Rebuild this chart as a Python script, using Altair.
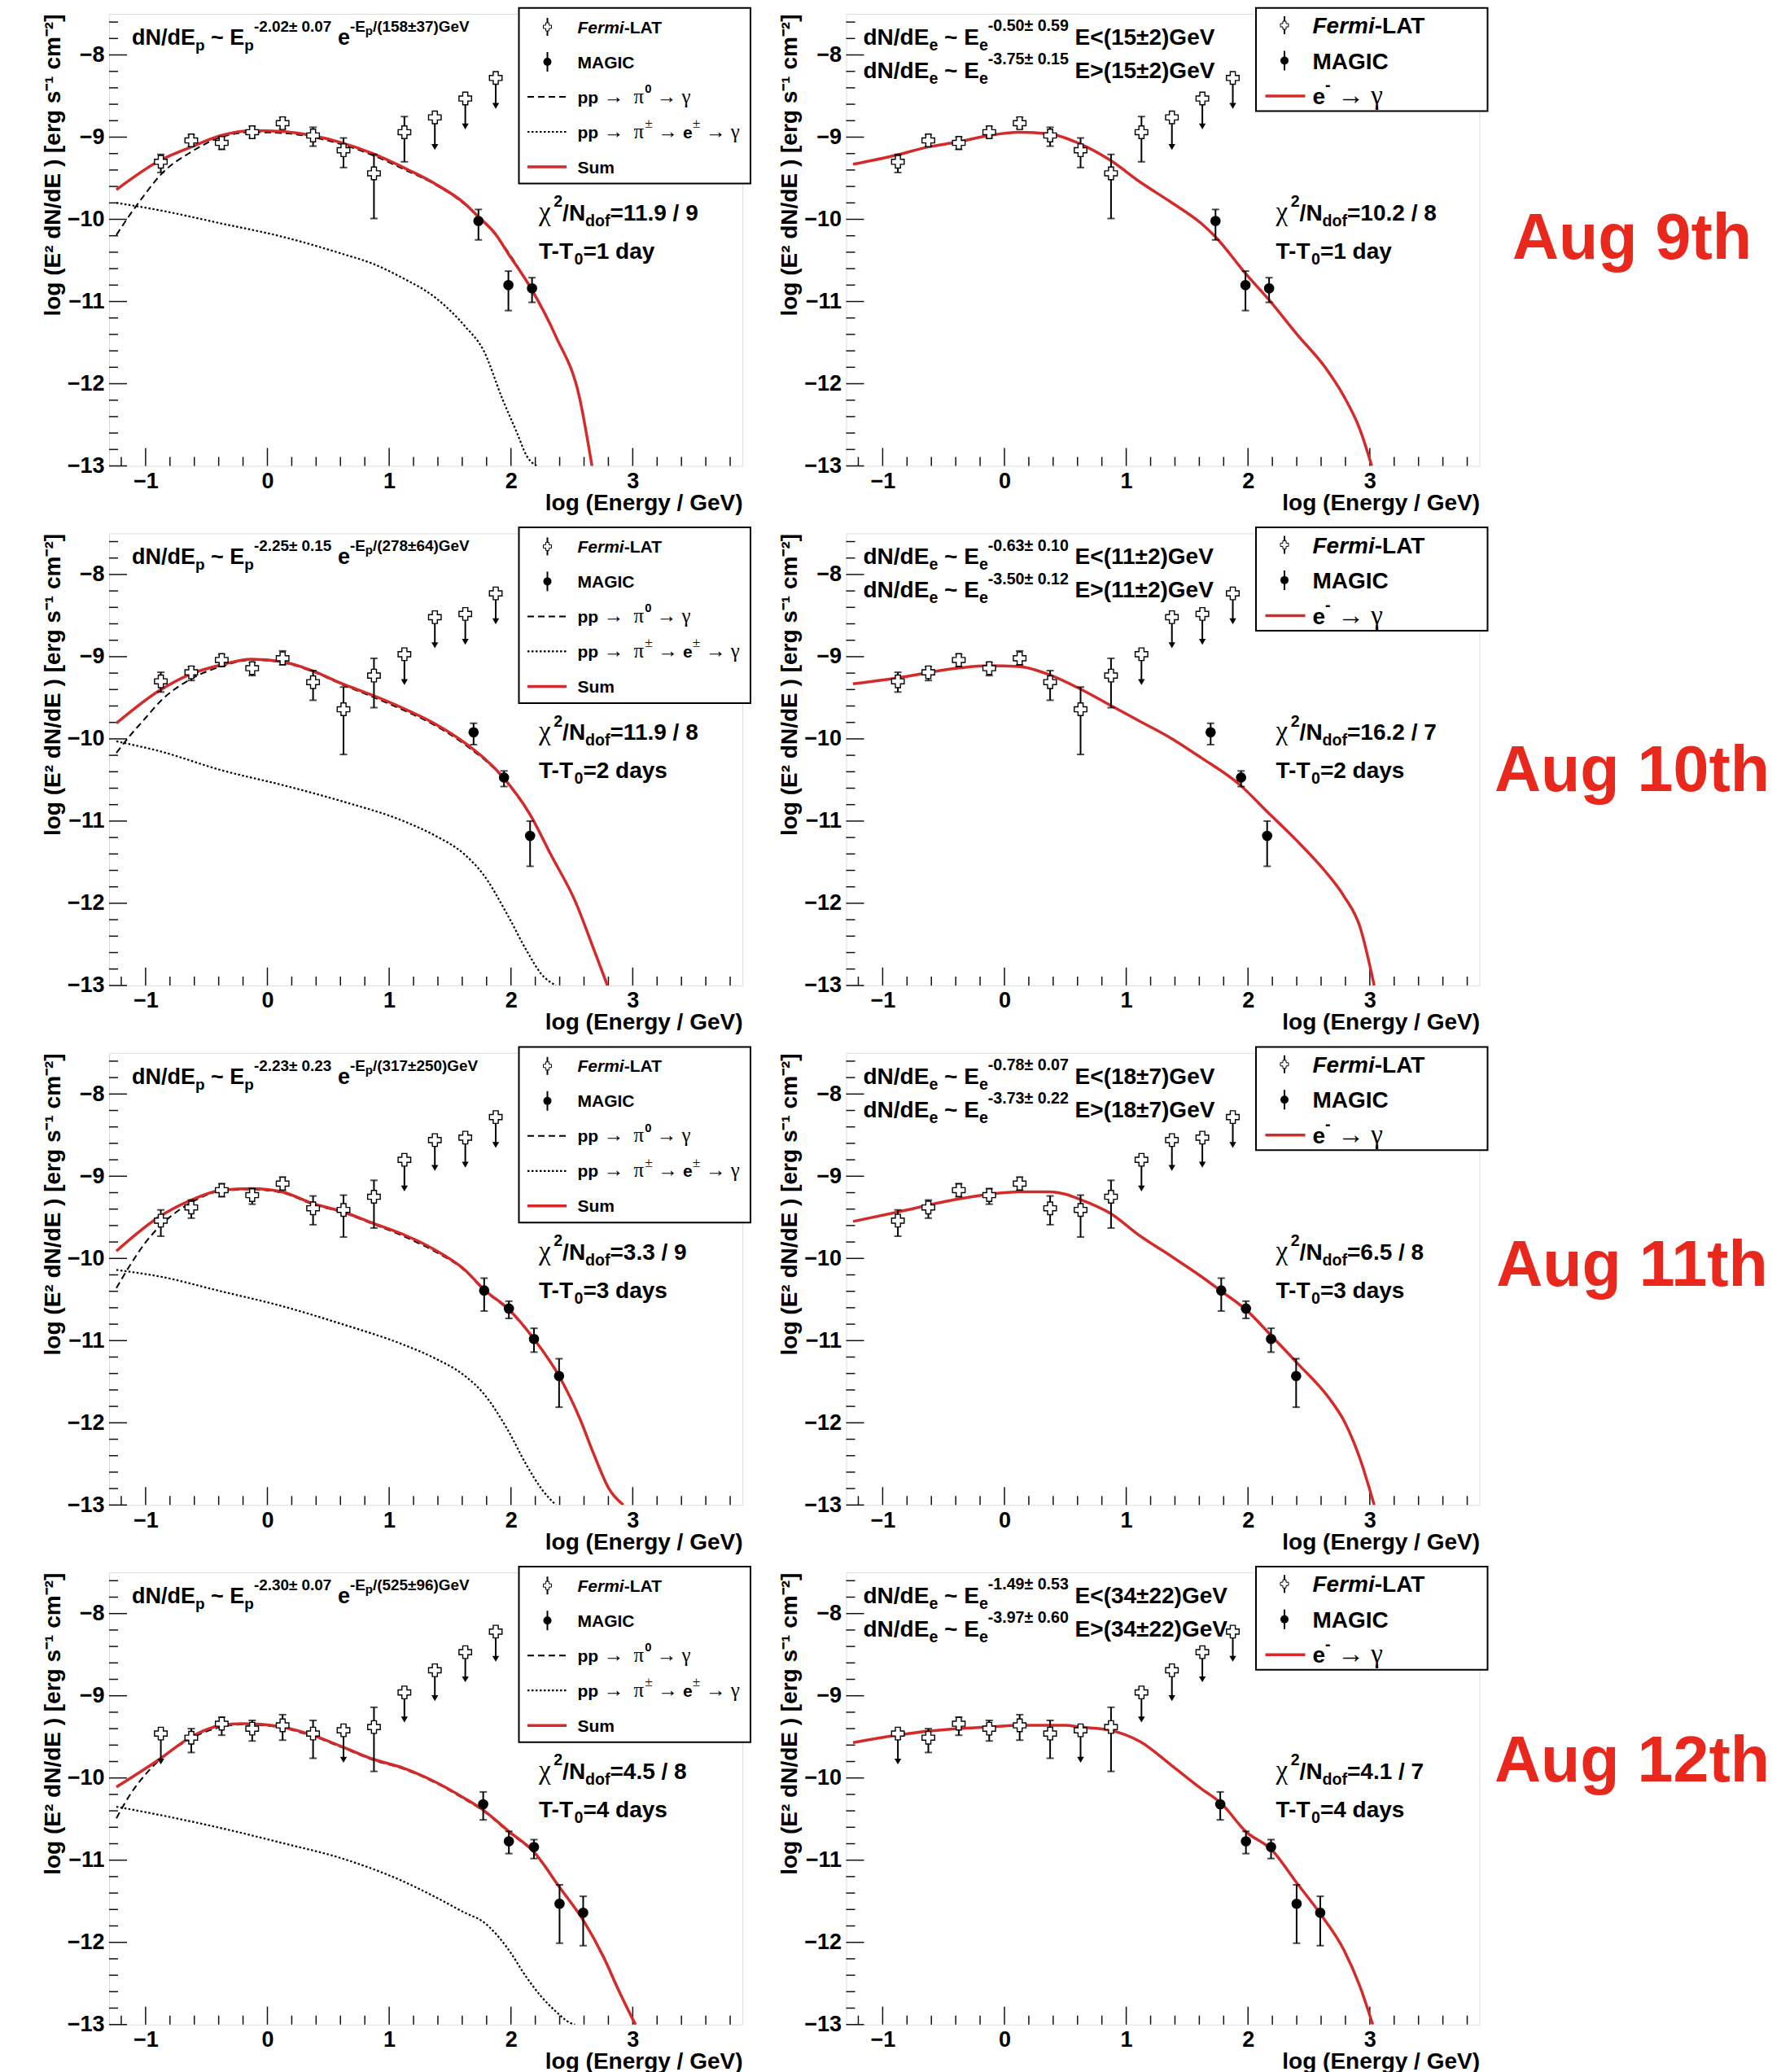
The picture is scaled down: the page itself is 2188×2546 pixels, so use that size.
import altair as alt
import pandas as pd

# ---------------- geometry / axes ----------------
PANEL_W = 778
PANEL_H = 555.5
X_DOMAIN = [-1.3, 3.9]
Y_DOMAIN = [-13.0, -7.5]
X_MAJOR = [-1, 0, 1, 2, 3]
X_MINOR = [-1.2, -0.8, -0.6, -0.4, -0.2, 0.2, 0.4, 0.6, 0.8, 1.2, 1.4, 1.6, 1.8,
           2.2, 2.4, 2.6, 2.8, 3.2, 3.4, 3.6, 3.8]
Y_MAJOR = [-13, -12, -11, -10, -9, -8]
Y_MINOR = [-12.8, -12.6, -12.4, -12.2, -11.8, -11.6, -11.4, -11.2, -10.8, -10.6, -10.4,
           -10.2, -9.8, -9.6, -9.4, -9.2, -8.8, -8.6, -8.4, -8.2, -7.8, -7.6]

# ---------------- texts ----------------
DAY_LABELS = ["Aug 9th", "Aug 10th", "Aug 11th", "Aug 12th"]
T_LABELS = ["1 day", "2 days", "3 days", "4 days"]
CHI2_HAD = ["11.9 / 9", "11.9 / 8", "3.3 / 9", "4.5 / 8"]
CHI2_LEP = ["10.2 / 8", "16.2 / 7", "6.5 / 8", "4.1 / 7"]
HAD_INDEX = ["-2.02± 0.07", "-2.25± 0.15", "-2.23± 0.23", "-2.30± 0.07"]
HAD_CUTOFF = ["158±37", "278±64", "317±250", "525±96"]
LEP_IDX1 = ["-0.50± 0.59", "-0.63± 0.10", "-0.78± 0.07", "-1.49± 0.53"]
LEP_IDX2 = ["-3.75± 0.15", "-3.50± 0.12", "-3.73± 0.22", "-3.97± 0.60"]
LEP_BREAK = ["15±2", "11±2", "18±7", "34±22"]
X_TITLE = "log (Energy / GeV)"
Y_TITLE = "log (E² dN/dE ) [erg s⁻¹ cm⁻²]"

# ---------------- Fermi-LAT data (same bins every day) ----------------
FERMI_X = [-0.875, -0.625, -0.375, -0.125, 0.125, 0.375, 0.625, 0.875, 1.125, 1.375, 1.625, 1.875]
FERMI_Y = [
    [-9.30, -9.04, -9.07, -8.94, -8.83, -8.98, -9.16, -9.44, -8.94, -8.76, -8.53, -8.28],
    [-9.30, -9.19, -9.04, -9.14, -9.02, -9.31, -9.64, -9.23, -8.97, -8.52, -8.48, -8.23],
    [-9.54, -9.38, -9.17, -9.23, -9.09, -9.39, -9.41, -9.25, -8.80, -8.56, -8.53, -8.28],
    [-9.46, -9.51, -9.34, -9.40, -9.36, -9.46, -9.42, -9.38, -8.96, -8.69, -8.47, -8.22],
]
FERMI_LO = [
    [-9.43, -9.11, -9.15, -9.01, -8.90, -9.11, -9.37, -9.99, -9.30, -9.12, -8.87, -8.62],
    [-9.43, -9.29, -9.12, -9.23, -9.10, -9.53, -10.19, -9.62, -9.31, -8.86, -8.82, -8.57],
    [-9.73, -9.51, -9.25, -9.34, -9.17, -9.59, -9.74, -9.63, -9.15, -8.90, -8.86, -8.62],
    [-9.80, -9.69, -9.48, -9.55, -9.54, -9.76, -9.78, -9.92, -9.29, -9.03, -8.80, -8.55],
]
FERMI_HI = [
    [-9.21, -8.97, -9.00, -8.87, -8.76, -8.88, -9.01, -9.21, -8.75, -8.76, -8.53, -8.28],
    [-9.19, -9.12, -8.97, -9.07, -8.93, -9.17, -9.37, -9.02, -8.97, -8.52, -8.48, -8.23],
    [-9.41, -9.29, -9.09, -9.15, -9.01, -9.24, -9.23, -9.05, -8.80, -8.56, -8.53, -8.28],
    [-9.46, -9.40, -9.26, -9.30, -9.23, -9.30, -9.42, -9.14, -8.96, -8.69, -8.47, -8.22],
]
FERMI_UL = [
    [0, 0, 0, 0, 0, 0, 0, 0, 0, 1, 1, 1],
    [0, 0, 0, 0, 0, 0, 0, 0, 1, 1, 1, 1],
    [0, 0, 0, 0, 0, 0, 0, 0, 1, 1, 1, 1],
    [1, 0, 0, 0, 0, 0, 1, 0, 1, 1, 1, 1],
]

# ---------------- MAGIC data ----------------
MAGIC_X = [
    [1.733, 1.979, 2.173],
    [1.693, 1.943, 2.157],
    [1.780, 1.983, 2.189, 2.395],
    [1.772, 1.983, 2.189, 2.399, 2.593],
]
MAGIC_Y = [
    [-10.02, -10.80, -10.84],
    [-9.92, -10.47, -11.18],
    [-10.39, -10.61, -10.98, -11.43],
    [-10.32, -10.77, -10.84, -11.53, -11.64],
]
MAGIC_LO = [
    [-10.25, -11.11, -11.01],
    [-10.07, -10.58, -11.55],
    [-10.64, -10.73, -11.14, -11.81],
    [-10.51, -10.92, -10.98, -12.01, -12.04],
]
MAGIC_HI = [
    [-9.88, -10.63, -10.71],
    [-9.81, -10.39, -11.00],
    [-10.24, -10.52, -10.85, -11.22],
    [-10.17, -10.65, -10.75, -11.30, -11.44],
]

# ---------------- hadronic model curves ----------------
SUM_X = [
    [-1.24, -0.884, -0.626, -0.38, -0.131, 0.119, 0.369, 0.615, 0.865, 1.118, 1.368, 1.622, 1.733, 1.868, 1.979, 2.173, 2.367, 2.566, 2.665],
    [-1.24, -0.884, -0.626, -0.38, -0.131, 0.119, 0.369, 0.615, 0.865, 1.118, 1.368, 1.622, 1.943, 2.157, 2.328, 2.526, 2.685, 2.792],
    [-1.24, -0.884, -0.626, -0.38, -0.131, 0.119, 0.369, 0.615, 0.865, 1.118, 1.368, 1.622, 1.780, 1.983, 2.189, 2.395, 2.566, 2.685, 2.804, 2.923],
    [-1.24, -0.884, -0.626, -0.38, -0.21, -0.031, 0.119, 0.369, 0.615, 0.865, 1.118, 1.368, 1.622, 1.772, 1.983, 2.189, 2.399, 2.593, 2.764, 2.883, 3.022],
]
SUM_Y = [
    [-9.64, -9.285, -9.12, -8.98, -8.92, -8.93, -8.98, -9.07, -9.20, -9.37, -9.56, -9.81, -9.97, -10.17, -10.42, -10.86, -11.42, -12.19, -13.0],
    [-9.81, -9.41, -9.21, -9.10, -9.03, -9.06, -9.17, -9.33, -9.47, -9.63, -9.81, -10.05, -10.48, -10.92, -11.41, -11.97, -12.58, -13.0],
    [-9.91, -9.49, -9.29, -9.17, -9.15, -9.19, -9.33, -9.43, -9.57, -9.71, -9.89, -10.14, -10.38, -10.62, -10.98, -11.43, -11.95, -12.40, -12.80, -13.0],
    [-10.11, -9.77, -9.50, -9.36, -9.34, -9.35, -9.38, -9.48, -9.62, -9.77, -9.88, -10.04, -10.25, -10.39, -10.65, -10.90, -11.33, -11.73, -12.19, -12.58, -13.0],
]
PI0_X = [
    [-1.24, -1.122, -1.003, -0.884, -0.626, -0.38, -0.131, 0.119, 0.369, 0.615, 0.865, 1.118, 1.368, 1.622, 1.868, 2.173, 2.367, 2.566, 2.665],
    [-1.24, -1.122, -1.003, -0.884, -0.626, -0.38, -0.131, 0.119, 0.369, 0.615, 0.865, 1.118, 1.368, 1.622, 1.943, 2.157, 2.328, 2.526, 2.685, 2.792],
    [-1.24, -1.122, -1.003, -0.884, -0.626, -0.38, -0.131, 0.119, 0.369, 0.615, 0.865, 1.118, 1.368, 1.622, 1.780, 1.983, 2.189, 2.395, 2.566, 2.685, 2.804, 2.923],
    [-1.24, -1.122, -1.003, -0.884, -0.626, -0.38, -0.21, -0.031, 0.119, 0.369, 0.615, 0.865, 1.118, 1.368, 1.622, 1.772, 1.983, 2.189, 2.399, 2.593, 2.764, 2.883, 3.022],
]
PI0_Y = [
    [-10.19, -9.93, -9.69, -9.47, -9.18, -9.00, -8.94, -8.95, -9.00, -9.09, -9.22, -9.39, -9.57, -9.82, -10.18, -10.87, -11.42, -12.19, -13.0],
    [-10.17, -9.95, -9.75, -9.55, -9.27, -9.12, -9.04, -9.07, -9.18, -9.34, -9.49, -9.65, -9.83, -10.07, -10.49, -10.93, -11.41, -11.97, -12.58, -13.0],
    [-10.36, -10.07, -9.81, -9.61, -9.32, -9.18, -9.16, -9.20, -9.34, -9.44, -9.58, -9.73, -9.91, -10.15, -10.39, -10.63, -10.98, -11.43, -11.95, -12.40, -12.80, -13.0],
    [-10.49, -10.19, -9.96, -9.78, -9.52, -9.38, -9.35, -9.36, -9.39, -9.49, -9.63, -9.78, -9.89, -10.05, -10.26, -10.40, -10.66, -10.91, -11.33, -11.73, -12.19, -12.58, -13.0],
]
PIC_X = [
    [-1.24, -0.884, -0.38, 0.119, 0.615, 0.865, 1.118, 1.368, 1.622, 1.773, 1.931, 2.05, 2.13, 2.21],
    [-1.24, -0.884, -0.38, 0.119, 0.615, 1.118, 1.368, 1.622, 1.773, 1.971, 2.13, 2.249, 2.368],
    [-1.24, -0.884, -0.38, 0.119, 0.615, 1.118, 1.368, 1.622, 1.773, 1.971, 2.13, 2.249, 2.368],
    [-1.24, -0.884, -0.38, 0.119, 0.615, 1.118, 1.368, 1.622, 1.772, 1.971, 2.13, 2.249, 2.368, 2.487, 2.526],
]
PIC_Y = [
    [-9.80, -9.89, -10.05, -10.21, -10.42, -10.54, -10.72, -10.94, -11.30, -11.59, -12.19, -12.60, -12.88, -13.0],
    [-10.03, -10.15, -10.38, -10.56, -10.76, -11.00, -11.17, -11.41, -11.65, -12.14, -12.58, -12.86, -13.0],
    [-10.14, -10.22, -10.40, -10.58, -10.80, -11.05, -11.21, -11.43, -11.64, -12.08, -12.52, -12.80, -13.0],
    [-10.35, -10.45, -10.61, -10.79, -10.98, -11.26, -11.44, -11.64, -11.75, -12.07, -12.43, -12.66, -12.84, -12.98, -13.0],
]

# ---------------- leptonic model curves (e- -> gamma) ----------------
LEP_X = [
    [-1.243, -0.89, -0.629, -0.387, -0.13, 0.119, 0.369, 0.618, 0.868, 1.117, 1.366, 1.616, 1.731, 1.98, 2.172, 2.402, 2.633, 2.786, 2.92, 3.016],
    [-1.243, -0.89, -0.387, -0.13, 0.119, 0.369, 0.618, 0.868, 1.117, 1.366, 1.616, 1.934, 2.153, 2.402, 2.633, 2.786, 2.92, 3.036],
    [-1.243, -0.89, -0.387, -0.13, 0.119, 0.369, 0.503, 0.618, 0.868, 1.117, 1.366, 1.616, 1.781, 1.98, 2.191, 2.402, 2.671, 2.786, 2.92, 3.036],
    [-1.243, -0.89, -0.387, -0.13, 0.119, 0.369, 0.503, 0.618, 0.868, 1.117, 1.366, 1.616, 1.781, 1.98, 2.191, 2.402, 2.587, 2.786, 2.92, 3.024],
]
LEP_Y = [
    [-9.33, -9.22, -9.12, -9.06, -8.98, -8.94, -8.96, -9.08, -9.28, -9.55, -9.79, -10.05, -10.21, -10.66, -10.98, -11.40, -11.80, -12.15, -12.56, -13.0],
    [-9.33, -9.26, -9.14, -9.11, -9.12, -9.22, -9.39, -9.59, -9.79, -9.99, -10.23, -10.56, -10.88, -11.24, -11.61, -11.91, -12.29, -13.0],
    [-9.55, -9.44, -9.28, -9.22, -9.19, -9.19, -9.22, -9.28, -9.45, -9.73, -9.97, -10.22, -10.40, -10.62, -10.94, -11.27, -11.71, -11.97, -12.44, -13.0],
    [-9.57, -9.48, -9.40, -9.38, -9.36, -9.36, -9.36, -9.38, -9.42, -9.56, -9.84, -10.13, -10.31, -10.65, -10.87, -11.28, -11.64, -12.09, -12.54, -13.0],
]

# ---------------- styles ----------------
RED = "#d42a2a"
LABEL_RED = "#e8281c"
INK = "#111111"
FONT = "Liberation Sans"
SERIF = "Liberation Serif"
LABEL_Y = [277, 293, 262, 233]
SERIF_SCALE = 1.18

XS = alt.Scale(domain=X_DOMAIN, nice=False, zero=False)
YS = alt.Scale(domain=Y_DOMAIN, nice=False, zero=False)
X_AXIS = alt.Axis(values=X_MAJOR, format="d", ticks=False, tickSize=0, domain=False, grid=False,
                  labelFont=FONT, labelFontWeight="bold", labelFontSize=27, labelColor="black",
                  labelPadding=6, labelFlush=False, labelOverlap=False,
                  title=X_TITLE, titleFont=FONT, titleFontWeight="bold", titleFontSize=28,
                  titleColor="black", titleAlign="right", titleX=PANEL_W, titleY=46,
                  titleBaseline="middle")
Y_AXIS = alt.Axis(values=Y_MAJOR, format="d", ticks=False, tickSize=0, domain=False, grid=False,
                  labelFont=FONT, labelFontWeight="bold", labelFontSize=27, labelColor="black",
                  labelPadding=6, labelFlush=False, labelOverlap=False,
                  title=Y_TITLE, titleFont=FONT, titleFontWeight="bold", titleFontSize=28,
                  titleColor="black", titleAngle=270, titleAlign="right", titleX=-69, titleY=0,
                  titleBaseline="middle")

SANS_W = {' ': .278, '(': .333, ')': .333, '-': .333, '.': .278, '/': .278, '<': .584, '=': .584,
          '>': .584, '~': .584, '±': .549, 'A': .722, 'C': .722, 'E': .667, 'F': .611, 'G': .778,
          'I': .278, 'L': .611, 'M': .833, 'N': .722, 'S': .667, 'T': .611, 'V': .667, 'a': .556,
          'd': .611, 'e': .556, 'f': .333, 'i': .278, 'm': .889, 'o': .611, 'p': .611, 'r': .389,
          's': .556, 'u': .611, 'y': .556}
SERIF_W = {' ': .25, '→': 1.0, 'π': .55, 'γ': .42, 'χ': .55, '±': .564}


def adv(text, fam):
    tbl = SERIF_W if fam == 's' else SANS_W
    return sum(tbl.get(c, .556) for c in text)


def rich(segs, x0, y0, F):
    out = []
    x = x0
    Fs = F * 0.7
    for text, lvl, fam in segs:
        if lvl == 'n':
            size, y = F, y0
        elif lvl == 'sup':
            size, y = Fs, y0 - 0.6 * F
        elif lvl == 'sub':
            size, y = Fs, y0 + 0.25 * F
        else:
            size, y = Fs * 0.8, y0 - 0.6 * F + 0.22 * Fs
        if fam == 's':
            size = size * SERIF_SCALE
        sp = (SERIF_W if fam == 's' else SANS_W)[' ']
        lead = len(text) - len(text.lstrip(' '))
        trail = len(text) - len(text.rstrip(' '))
        core = text.strip(' ')
        x += lead * sp * size
        if core:
            out.append({'text': core, 'x': round(x, 1), 'y': round(y, 1),
                        'size': round(size, 1), 'fam': fam})
            x += adv(core, fam) * size
        x += trail * sp * size
    return out


def text_layers(rows):
    df = pd.DataFrame(rows)
    layers = []
    styles = [('b', dict(font=FONT, fontWeight='bold')),
              ('bi', dict(font=FONT, fontWeight='bold', fontStyle='italic')),
              ('s', dict(font=SERIF))]
    for fam, kw in styles:
        sub = df[df['fam'] == fam]
        if len(sub):
            layers.append(alt.Chart(sub).mark_text(align='left', baseline='alphabetic',
                                                   color='black', **kw).encode(
                x=alt.X('x:Q', scale=None), y=alt.Y('y:Q', scale=None),
                size=alt.Size('size:Q', scale=None, legend=None), text='text:N'))
    return layers


ONE = pd.DataFrame({'k': [0]})


def tick_layers():
    L = []
    for vals, ln in ((Y_MAJOR, 22), (Y_MINOR, 11)):
        L.append(alt.Chart(pd.DataFrame({'y': vals})).mark_rule(color=INK, strokeWidth=1.5).encode(
            y=alt.Y('y:Q', scale=YS, axis=Y_AXIS), x=alt.value(0), x2=alt.value(ln)))
    for vals, ln in ((X_MAJOR, 22), (X_MINOR, 11)):
        L.append(alt.Chart(pd.DataFrame({'x': vals})).mark_rule(color=INK, strokeWidth=1.5).encode(
            x=alt.X('x:Q', scale=XS, axis=X_AXIS), y=alt.value(PANEL_H), y2=alt.value(PANEL_H - ln)))
    return L


def curve(xs, ys, **mk):
    df = pd.DataFrame({'x': xs, 'y': ys})
    return alt.Chart(df).mark_line(clip=True, interpolate='monotone', **mk).encode(
        x=alt.X('x:Q', scale=XS, axis=X_AXIS), y=alt.Y('y:Q', scale=YS, axis=Y_AXIS))


def enc_xy(yfield='y'):
    return dict(x=alt.X('x:Q', scale=XS, axis=X_AXIS), y=alt.Y(yfield + ':Q', scale=YS, axis=Y_AXIS))


def data_layers(r):
    err, caps, ul = [], [], []
    for x, y, lo, hi, u in zip(FERMI_X, FERMI_Y[r], FERMI_LO[r], FERMI_HI[r], FERMI_UL[r]):
        if u:
            ul.append({'x': x, 'y': lo, 'y2': y})
        else:
            err.append({'x': x, 'y': lo, 'y2': hi})
            caps.append({'x': x, 'y': lo})
            caps.append({'x': x, 'y': hi})
    merr, mcaps = [], []
    for x, lo, hi in zip(MAGIC_X[r], MAGIC_LO[r], MAGIC_HI[r]):
        merr.append({'x': x, 'y': lo, 'y2': hi})
        mcaps.append({'x': x, 'y': lo})
        mcaps.append({'x': x, 'y': hi})
    L = []
    L.append(alt.Chart(pd.DataFrame(err)).mark_rule(color='black', strokeWidth=2).encode(
        **enc_xy(), y2='y2:Q'))
    L.append(alt.Chart(pd.DataFrame(caps)).mark_tick(orient='horizontal', size=9, thickness=2,
                                                     color='black').encode(**enc_xy()))
    L.append(alt.Chart(pd.DataFrame(ul)).mark_rule(color='black', strokeWidth=2).encode(
        **enc_xy(), y2='y2:Q'))
    L.append(alt.Chart(pd.DataFrame(ul)).mark_point(shape='triangle-down', filled=True, size=70,
                                                    color='black', opacity=1).encode(**enc_xy()))
    L.append(alt.Chart(pd.DataFrame({'x': FERMI_X, 'y': FERMI_Y[r]})).mark_point(
        shape='cross', filled=True, fill='white', stroke='black', strokeWidth=1.4, size=240,
        opacity=1).encode(**enc_xy()))
    L.append(alt.Chart(pd.DataFrame(merr)).mark_rule(color='black', strokeWidth=2).encode(
        **enc_xy(), y2='y2:Q'))
    L.append(alt.Chart(pd.DataFrame(mcaps)).mark_tick(orient='horizontal', size=9, thickness=2,
                                                      color='black').encode(**enc_xy()))
    L.append(alt.Chart(pd.DataFrame({'x': MAGIC_X[r], 'y': MAGIC_Y[r]})).mark_circle(
        size=160, color='black', opacity=1).encode(**enc_xy()))
    return L


def legend_layers(kind):
    if kind == 'had':
        box = (503.5, 788, -7.3, 208.5)
        rows_y = [16, 59, 102, 145, 188]
        F, tx = 21, 575.5
    else:
        box = (503.5, 788, -7.3, 119.5)
        rows_y = [14, 57.5, 101]
        F, tx = 28, 573
    sx = 538.5
    L = [alt.Chart(ONE).mark_rect(fill='white', stroke='black', strokeWidth=2).encode(
        x=alt.value(box[0]), x2=alt.value(box[1]), y=alt.value(box[2]), y2=alt.value(box[3]))]
    cy = rows_y[0]
    L.append(alt.Chart(ONE).mark_rule(color='black', strokeWidth=2).encode(
        x=alt.value(sx), y=alt.value(cy - 11), y2=alt.value(cy + 11)))
    L.append(alt.Chart(ONE).mark_point(shape='cross', filled=True, fill='white', stroke='black',
                                       strokeWidth=1, size=100, opacity=1).encode(
        x=alt.value(sx), y=alt.value(cy)))
    cy = rows_y[1]
    L.append(alt.Chart(ONE).mark_rule(color='black', strokeWidth=2).encode(
        x=alt.value(sx), y=alt.value(cy - 12), y2=alt.value(cy + 12)))
    L.append(alt.Chart(ONE).mark_circle(size=100, color='black', opacity=1).encode(
        x=alt.value(sx), y=alt.value(cy)))
    rows = []
    rows += rich([("Fermi", 'n', 'bi'), ("-LAT", 'n', 'b')], tx, rows_y[0] + 0.36 * F, F)
    rows += rich([("MAGIC", 'n', 'b')], tx, rows_y[1] + 0.36 * F, F)
    if kind == 'had':
        L.append(alt.Chart(ONE).mark_rule(color='black', strokeWidth=2, strokeDash=[8, 5]).encode(
            x=alt.value(514), x2=alt.value(562), y=alt.value(rows_y[2])))
        L.append(alt.Chart(ONE).mark_rule(color='black', strokeWidth=2.2, strokeDash=[2.5, 2.5]).encode(
            x=alt.value(514), x2=alt.value(562), y=alt.value(rows_y[3])))
        L.append(alt.Chart(ONE).mark_rule(color=RED, strokeWidth=3.5).encode(
            x=alt.value(514), x2=alt.value(562), y=alt.value(rows_y[4])))
        rows += rich([("pp", 'n', 'b'), (" →  ", 'n', 's'), ("π", 'n', 's'), ("0", 'sup', 'b'),
                      (" → γ", 'n', 's')], tx, rows_y[2] + 0.36 * F, F)
        rows += rich([("pp", 'n', 'b'), (" →  ", 'n', 's'), ("π", 'n', 's'), ("±", 'sup', 's'),
                      (" → ", 'n', 's'), ("e", 'n', 'b'), ("±", 'sup', 's'), (" → γ", 'n', 's')],
                     tx, rows_y[3] + 0.36 * F, F)
        rows += rich([("Sum", 'n', 'b')], tx, rows_y[4] + 0.36 * F, F)
    else:
        L.append(alt.Chart(ONE).mark_rule(color=RED, strokeWidth=3.5).encode(
            x=alt.value(515), x2=alt.value(564), y=alt.value(rows_y[2])))
        rows += rich([("e", 'n', 'b'), ("-", 'sup', 'b'), (" → γ", 'n', 's')],
                     tx, rows_y[2] + 0.36 * F, F)
    return L, rows


def chi_rows(chi, tlab):
    rows = rich([("χ", 'n', 's'), ("2", 'sup', 'b'), ("/N", 'n', 'b'), ("dof", 'sub', 'b'),
                 ("=" + chi, 'n', 'b')], 528, 254, 28)
    rows += rich([("T-T", 'n', 'b'), ("0", 'sub', 'b'), ("=" + tlab, 'n', 'b')], 528, 301, 28)
    return rows


def had_panel(r):
    L = tick_layers()
    L.append(curve(PIC_X[r], PIC_Y[r], color='black', strokeWidth=2.2, strokeDash=[2.5, 2.5]))
    L.append(curve(PI0_X[r], PI0_Y[r], color='black', strokeWidth=2, strokeDash=[8, 5]))
    L.append(curve(SUM_X[r], SUM_Y[r], color=RED, strokeWidth=3.5))
    L += data_layers(r)
    leg, rows = legend_layers('had')
    L += leg
    rows += rich([("dN/dE", 'n', 'b'), ("p", 'sub', 'b'), (" ~ E", 'n', 'b'), ("p", 'sub', 'b'),
                  (HAD_INDEX[r], 'sup', 'b'), (" e", 'n', 'b'), ("-E", 'sup', 'b'),
                  ("p", 'supsub', 'b'), ("/(" + HAD_CUTOFF[r] + ")GeV", 'sup', 'b')], 28, 38, 27)
    rows += chi_rows(CHI2_HAD[r], T_LABELS[r])
    L += text_layers(rows)
    return alt.layer(*L).properties(width=PANEL_W, height=PANEL_H)


def lep_panel(r):
    L = tick_layers()
    L.append(curve(LEP_X[r], LEP_Y[r], color=RED, strokeWidth=3.5))
    L += data_layers(r)
    leg, rows = legend_layers('lep')
    L += leg
    rows += rich([("dN/dE", 'n', 'b'), ("e", 'sub', 'b'), (" ~ E", 'n', 'b'), ("e", 'sub', 'b'),
                  (LEP_IDX1[r], 'sup', 'b'), (" E<(" + LEP_BREAK[r] + ")GeV", 'n', 'b')], 21, 38, 28)
    rows += rich([("dN/dE", 'n', 'b'), ("e", 'sub', 'b'), (" ~ E", 'n', 'b'), ("e", 'sub', 'b'),
                  (LEP_IDX2[r], 'sup', 'b'), (" E>(" + LEP_BREAK[r] + ")GeV", 'n', 'b')], 21, 79, 28)
    rows += chi_rows(CHI2_LEP[r], T_LABELS[r])
    L += text_layers(rows)
    return alt.layer(*L).properties(width=PANEL_W, height=PANEL_H)


def day_label(r):
    return alt.Chart(pd.DataFrame({'t': [DAY_LABELS[r]]})).mark_text(
        font=FONT, fontWeight='bold', fontSize=79, color=LABEL_RED, align='center',
        baseline='middle').encode(text='t:N', x=alt.value(60), y=alt.value(LABEL_Y[r])).properties(
        width=120, height=PANEL_H, view=alt.ViewBackground(stroke='transparent'))


cells = []
for r in range(4):
    cells += [had_panel(r), lep_panel(r), day_label(r)]

chart = alt.concat(*cells, columns=3, spacing={'row': 82.4, 'column': 127.5},
                   bounds='flush', align='each').properties(
    padding={'left': 42, 'top': 0, 'right': 0, 'bottom': 0}
).configure_view(stroke=INK, strokeWidth=1.5).configure(background='white')

chart.save("out.html", embed_options={"renderer": "svg", "actions": False})
